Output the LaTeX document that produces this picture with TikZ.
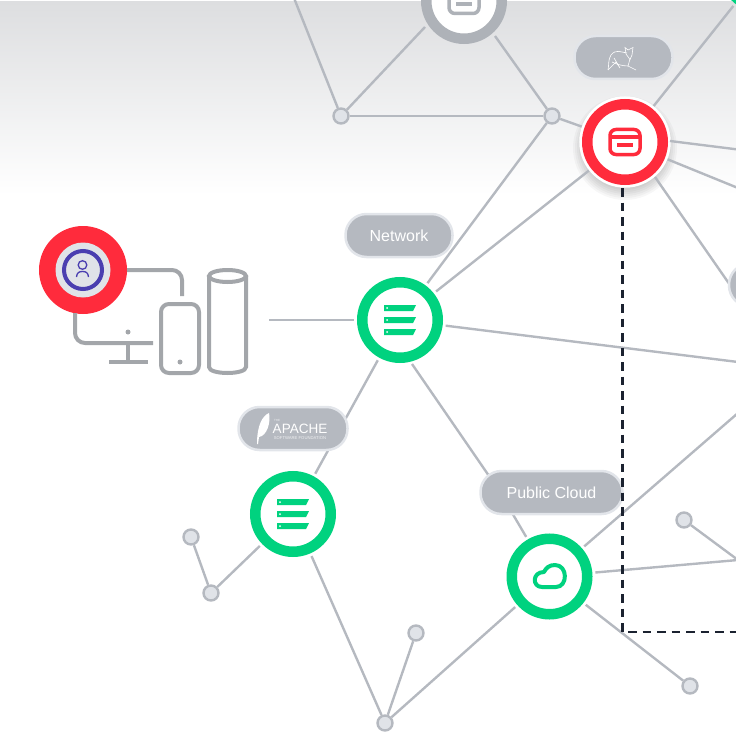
\documentclass[tikz,border=0pt]{standalone}
\usepackage{fontspec}
\setmainfont{Liberation Sans}
\definecolor{linkgrey}{HTML}{B5B9C0}
\definecolor{dotfill}{HTML}{E0E3E8}
\definecolor{pillrim}{HTML}{E2E5EA}
\definecolor{ringgreen}{HTML}{00D27F}
\definecolor{ringred}{HTML}{FF2B3C}
\definecolor{ringgrey}{HTML}{AEB2B8}
\definecolor{devicegrey}{HTML}{A3A6AA}
\definecolor{userblue}{HTML}{4A3FB0}
\definecolor{dashdark}{HTML}{1B2230}
\definecolor{skytop}{HTML}{DDDEE0}
\definecolor{skymid}{HTML}{F2F2F3}
\tikzset{
	link/.style={draw=linkgrey, line width=2.4pt},
	gapstart/.style={shorten <=3pt},
	gapend/.style={shorten >=3pt},
	dot/.style={circle, draw=linkgrey, fill=dotfill, line width=2.4pt, minimum size=15pt, inner sep=0pt},
	ring/.style={circle, draw=#1, fill=white, line width=10.5pt, minimum size=75.5pt, inner sep=0pt},
	haloring/.style={ring=#1, preaction={draw=white, line width=16pt}},
	pill/.style={rectangle, rounded corners=21pt, draw=pillrim, fill=linkgrey, line width=2.5pt, minimum width=#1, minimum height=43pt, inner sep=0pt, text=white, font=\fontsize{16}{18}\selectfont},
	device/.style={draw=devicegrey, line width=4pt},
	serverstack/.pic={
		\foreach \rowy in {-12,0,12} {
			\fill[ringgreen] (-16,\rowy-3) -- (16,\rowy-3) -- (13,\rowy+3) -- (-16,\rowy+3) -- cycle;
			\fill[white] (-13,\rowy) circle (1pt);
		}
	},
	cardicon/.pic={
		\draw[#1, line width=3.5pt, rounded corners=6pt] (-15,-12.5) rectangle (15,12.5);
		\draw[#1, line width=3.5pt] (-15,-5) -- (15,-5);
		\draw[#1, line width=3.5pt] (-8,3) -- (8,3);
	},
}
\begin{document}
\begin{tikzpicture}[x=1pt, y=-1pt]
	\useasboundingbox (0,0) rectangle (736,733);
	\clip (0,0) rectangle (736,733);
	\shade[top color=skytop, middle color=skymid, bottom color=white] (0,2) rectangle (736,195);

	\coordinate (topleft)   at (294,-2);
	\coordinate (topnw)     at (425,27);
	\coordinate (topse)     at (495,36);
	\coordinate (deviceend) at (269,320);
	\coordinate (netexit)   at (412,364);
	\coordinate (cloudbend) at (498,489);
	\coordinate (redeast)   at (670,141);
	\coordinate (redeastend) at (738,149.5);
	\coordinate (redsouth)  at (738,188);
	\coordinate (redse)     at (655,177);
	\coordinate (rightend)  at (730,285);
	\coordinate (netend)    at (738,362);
	\coordinate (cloudne)   at (738,413);
	\coordinate (cloudeast) at (738,560);
	\coordinate (dashcorner) at (622.5,632);
	\coordinate (dashend)   at (738,632);

	\node[ring=ringgrey]         (topserver)  at (464,1)   {};
	\node[ring=ringgreen]        (cornerserver) at (762,-30) {};
	\foreach \shadowr in {40,42,...,52}
		\fill[black, opacity=.03] (625,148) circle (\shadowr pt);
	\node[haloring=ringred]      (redserver)  at (625,142) {};
	\node[haloring=ringgreen]    (netserver)  at (400,320) {};
	\node[haloring=ringgreen]    (apacheserver) at (293,514) {};
	\node[haloring=ringgreen]    (cloudserver) at (549.5,576.5) {};
	\node[circle, fill=ringred, minimum size=88pt, inner sep=0pt] (user) at (83,270) {};

	\node[dot] (dota) at (341,116) {};
	\node[dot] (dotb) at (552,116) {};
	\node[dot] (dotc) at (191,537) {};
	\node[dot] (dotd) at (211,593) {};
	\node[dot] (dote) at (416,633) {};
	\node[dot] (dotf) at (385,723) {};
	\node[dot] (dotg) at (684,520) {};
	\node[dot] (doth) at (690,686) {};

	\draw[link] (dota) -- (topleft);
	\draw[link] (dota) -- (topnw);
	\draw[link] (dota) -- (dotb);
	\draw[link] (dotb) -- (topse);
	\draw[link, gapend] (dotb) -- (redserver);
	\draw[link, gapend] (dotb) -- (netserver);
	\draw[link, gapstart, gapend] (redserver) -- (netserver);
	\draw[link, gapstart, gapend] (redserver) -- (cornerserver);
	\draw[link] (redeast) -- (redeastend);
	\draw[link, gapstart] (redserver) -- (redsouth);
	\draw[link] (redse) -- (rightend);
	\draw[link, gapstart] (netserver) -- (netend);
	\draw[link, gapend] (deviceend) -- (netserver);
	\draw[link, gapstart, gapend] (netserver) -- (apacheserver);
	\draw[link, gapend] (netexit) -- (cloudbend) -- (cloudserver);
	\draw[link, gapstart] (apacheserver) -- (dotd);
	\draw[link] (dotd) -- (dotc);
	\draw[link, gapstart] (apacheserver) -- (dotf);
	\draw[link] (dotf) -- (dote);
	\draw[link, gapend] (dotf) -- (cloudserver);
	\draw[link, gapstart] (cloudserver) -- (cloudne);
	\draw[link, gapstart] (cloudserver) -- (cloudeast);
	\draw[link] (dotg) -- (cloudeast);
	\draw[link, gapstart] (cloudserver) -- (doth);

	\pic at (topserver) {cardicon=ringgrey};
	\pic at (redserver) {cardicon=ringred};
	\pic at (netserver) {serverstack};
	\pic at (apacheserver) {serverstack};
	\draw[ringgreen, line width=4pt, line join=round] (542,587) -- (556,587)
		.. controls (568,587) and (568,565) .. (555,565)
		.. controls (549,565) and (546,568) .. (544,572)
		.. controls (532,572) and (532,587) .. (542,587) -- cycle;

	\node[pill=107pt]  (networkpill) at (399,235.5) {Network};
	\node[pill=98pt]   (tomcatpill)  at (623.5,57.5) {};
	\node[pill=109pt]  (apachepill)  at (293,428.5) {};
	\node[pill=142pt]  (cloudpill)   at (551.5,492.5) {Public Cloud};
	\node[pill=106pt]  (rightpill)   at (782,285) {};

	\draw[white, line width=.6pt] (625,47.5) -- (628,50) -- (633,47.5) -- (632,55) -- (630,59.5) -- (626,54) -- cycle;
	\draw[white, line width=.6pt] (627,53) .. controls (620,52) and (616,49) .. (611,55) .. controls (608,59) and (609,66) .. (608,70);
	\draw[white, line width=.6pt] (630,59) -- (628,66) -- (636,70);
	\draw[white, line width=.6pt] (612,62) .. controls (616,64) and (622,66) .. (628,66);
	\draw[white, line width=.6pt] (614,58) -- (620,68) -- (616,62) -- (608,70);

	\fill[white] (257,444) .. controls (257,426) and (262,416) .. (269,413) .. controls (271,422) and (267,436) .. (259,437) -- (258,444) -- cycle;
	\node[text=white, font=\fontsize{13.5}{14}\selectfont, inner sep=0pt] (apachetext) at (300,428.5) {APACHE};
	\node[text=white, opacity=.8, font=\fontsize{4.2}{5}\selectfont, inner sep=0pt] (apachefoot) at (300,438) {SOFTWARE FOUNDATION};
	\node[text=white, opacity=.8, font=\fontsize{3}{4}\selectfont, inner sep=0pt] (apachehead) at (277,420.5) {THE};

	\draw[device, rounded corners=10pt] (75,313) -- (75,343) -- (153,343);
	\draw[device, rounded corners=10pt] (127,270) -- (182,270) -- (182,296);
	\fill[devicegrey] (128,332) circle (2.5pt);
	\draw[device] (128,343) -- (128,362);
	\draw[device] (109,362) -- (148,362);
	\draw[device, rounded corners=8pt] (161,304) rectangle (199,373);
	\fill[devicegrey] (180,362) circle (2.5pt);
	\draw[device] (227.5,276) ellipse (18.5pt and 6pt);
	\draw[device] (209,276) -- (209,367) .. controls (209,375) and (246,375) .. (246,367) -- (246,276);

	\node[circle, fill=dotfill, minimum size=55pt, inner sep=0pt] (usercore) at (user) {};
	\node[circle, draw=userblue, line width=4pt, minimum size=38pt, inner sep=0pt] (userring) at (user) {};
	\draw[userblue, line width=1.3pt] (82.5,265) circle (4.3pt);
	\draw[userblue, line width=1.3pt] (76.5,277) .. controls (77,272.5) and (79,271.5) .. (82.5,271.5) .. controls (86,271.5) and (88,272.5) .. (88.5,277);

	\draw[dashdark, line width=2.5pt, dash pattern=on 8.5pt off 6pt] (redserver.south -| dashcorner) ++(0,3) -- (dashcorner) -- (dashend);
\end{tikzpicture}
\end{document}
